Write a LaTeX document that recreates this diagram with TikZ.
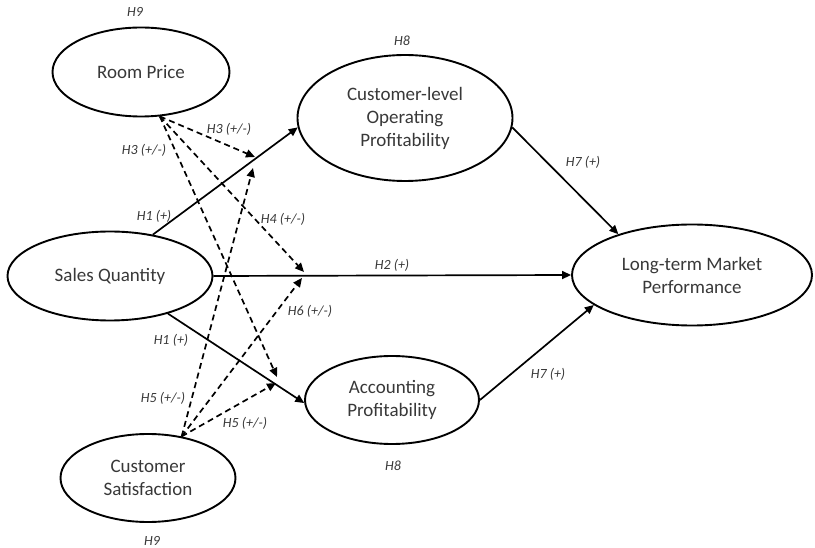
\documentclass[tikz,border=0pt]{standalone}
\usepackage{fontspec}
\setmainfont{Carlito}
\usetikzlibrary{shapes.geometric,arrows.meta}

\tikzset{
  construct/.style={ellipse, draw=black, line width=1.9pt, inner sep=0pt,
    align=center, text=black!78, font=\fontsize{19}{23}\selectfont},
  path/.style={line width=1.7pt, -{Triangle[length=9pt,width=8pt]}},
  modpath/.style={path, dash pattern=on 6pt off 4pt},
  hyp/.style={text=black!78, font=\fontsize{14}{16}\selectfont\itshape, inner sep=1pt}
}

\begin{document}
\begin{tikzpicture}[x=1pt, y=-1pt]
\useasboundingbox (0,0) rectangle (815,548);

% constructs
\node[construct, minimum width=177pt, minimum height=89pt] (rp) at (141,72) {Room Price};
\node[construct, minimum width=205pt, minimum height=89pt] (sq) at (110,276) {Sales Quantity};
\node[construct, minimum width=175pt, minimum height=88pt] (cs) at (148,478) {Customer\\Satisfaction};
\node[construct, minimum width=215pt, minimum height=126pt] (clop) at (405,118) {Customer-level\\Operating\\Profitability};
\node[construct, minimum width=174pt, minimum height=88pt] (ap) at (392,400) {Accounting\\Profitability};
\node[construct, minimum width=240pt, minimum height=101pt] (ltmp) at (692,275) {Long-term Market\\Performance};

% points on the direct paths where moderating effects attach
\coordinate (m1a) at (255,157);
\coordinate (m1b) at (253,168);
\coordinate (m2a) at (304,272);
\coordinate (m2b) at (302,278);
\coordinate (m3a) at (277,377);
\coordinate (m3b) at (276,383);

% direct effects
\draw[path] (sq.44) -- (clop.185);
\draw[path] (sq.east) -- (ltmp.west);
\draw[path] (sq.-33) -- (ap.182);
\draw[path] (clop.-5) -- (ltmp.151);
\draw[path] (ap.east) -- (ltmp.197);

% moderating effects
\draw[modpath] (rp.-67) -- (m1a);
\draw[modpath] (rp.-67) -- (m3a);
\draw[modpath] (rp.-67) -- (m2a);
\draw[modpath] (cs.51) -- (m1b);
\draw[modpath] (cs.51) -- (m2b);
\draw[modpath] (cs.51) -- (m3b);

% hypothesis labels
\node[hyp] (h9a) at (135,12) {H9};
\node[hyp] (h9b) at (152,541) {H9};
\node[hyp] (h8a) at (402,41) {H8};
\node[hyp] (h8b) at (393,466) {H8};
\node[hyp] (h3a) at (229,129) {H3 (+/-)};
\node[hyp] (h3b) at (144,150) {H3 (+/-)};
\node[hyp] (h1a) at (154,216) {H1 (+)};
\node[hyp] (h4) at (283,219) {H4 (+/-)};
\node[hyp] (h2) at (392,265) {H2 (+)};
\node[hyp] (h7a) at (583,162) {H7 (+)};
\node[hyp] (h7b) at (548,374) {H7 (+)};
\node[hyp] (h1b) at (171,340) {H1 (+)};
\node[hyp] (h6) at (310,311) {H6 (+/-)};
\node[hyp] (h5a) at (163,398) {H5 (+/-)};
\node[hyp] (h5b) at (245,423) {H5 (+/-)};
\end{tikzpicture}
\end{document}
